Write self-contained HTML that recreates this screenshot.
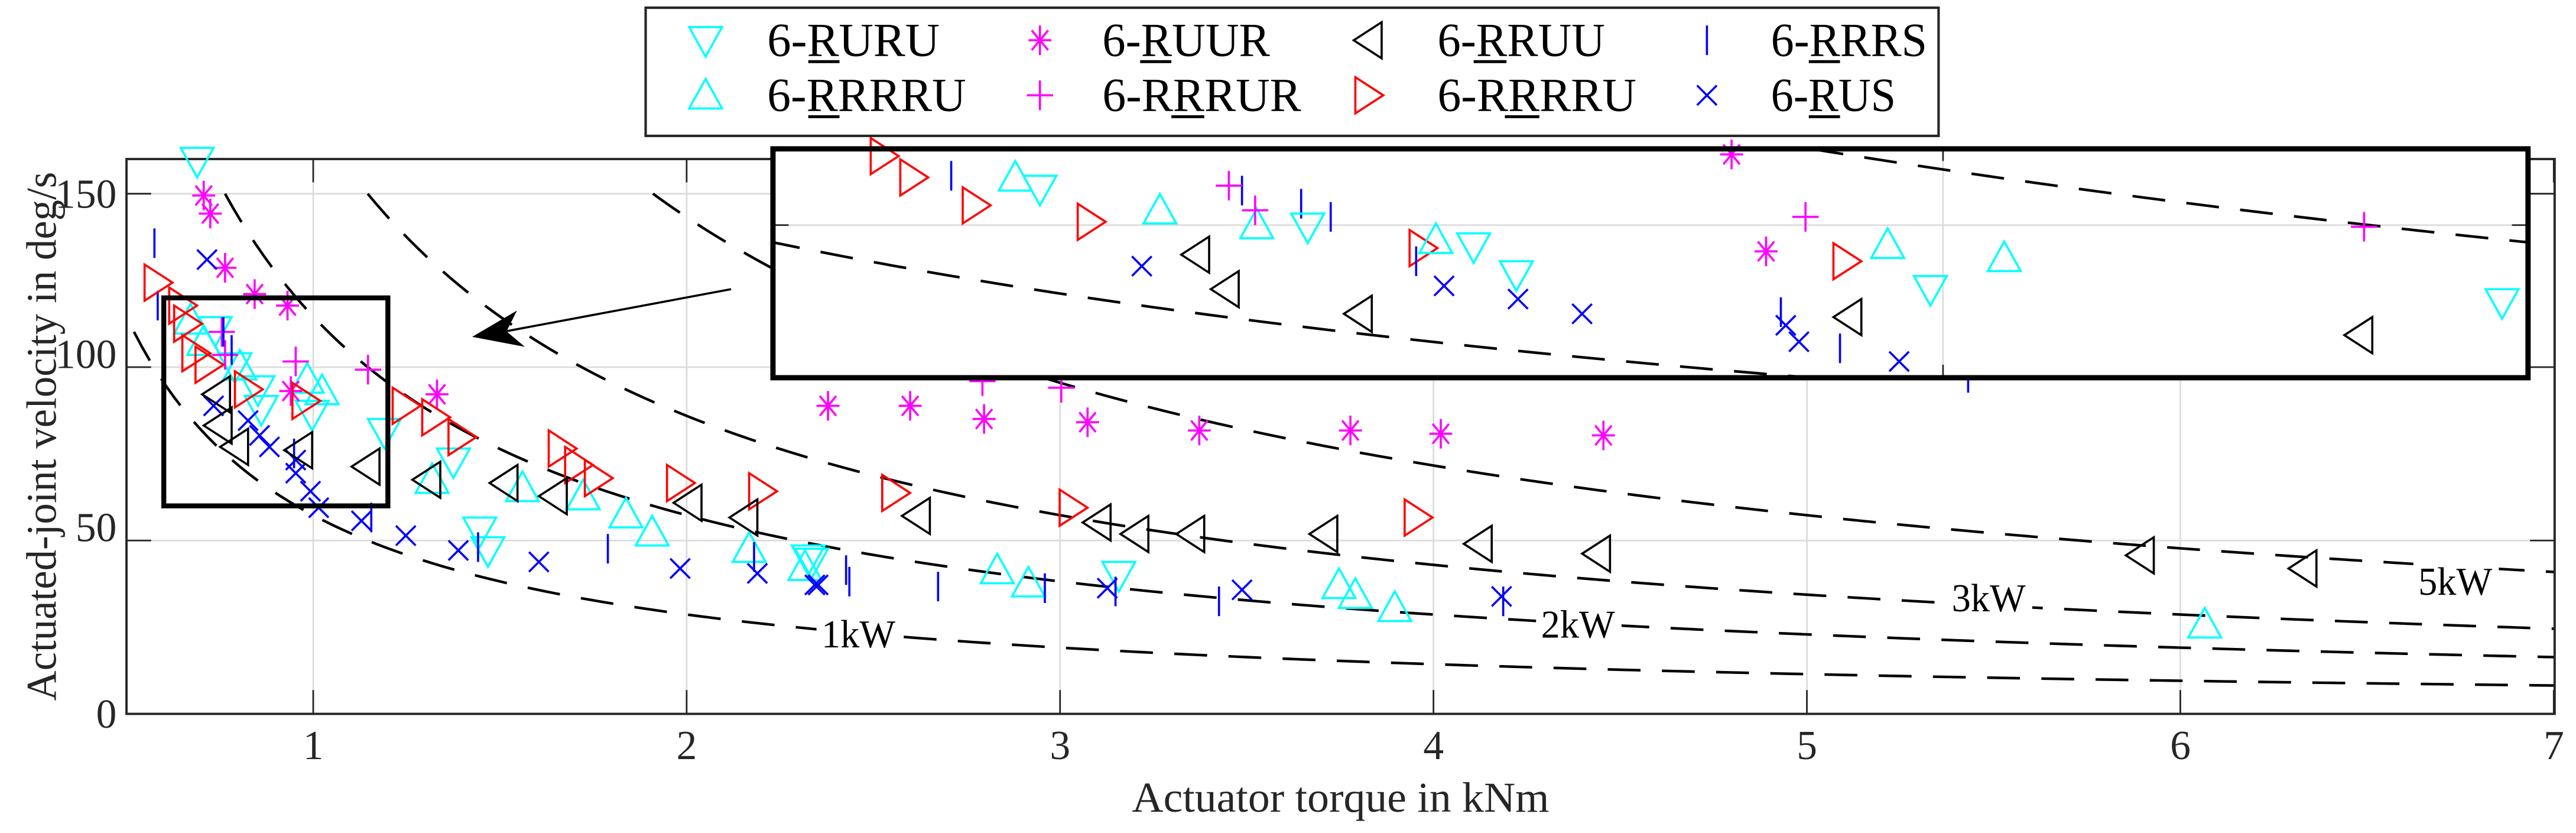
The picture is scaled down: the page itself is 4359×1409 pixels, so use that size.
<!DOCTYPE html>
<html><head><meta charset="utf-8"><style>
html,body{margin:0;padding:0;background:#fff;}
svg{display:block;}
svg text{font-family:"Liberation Serif","DejaVu Serif","Noto Serif CJK SC",serif;}
</style></head><body>
<svg id="s" width="4359" height="1409" viewBox="0 0 1568 507" preserveAspectRatio="none" xmlns="http://www.w3.org/2000/svg">
<defs>
<clipPath id="ca"><rect x="77" y="96.8" width="1478" height="337.7"/></clipPath>
<clipPath id="ci"><rect x="470.5" y="90.6" width="1068.3" height="139.3"/></clipPath>
</defs>
<rect width="1568" height="507" fill="#fff"/>
<g id="grid" stroke="#dcdcdc" stroke-width="1"></g>
<g id="curves" clip-path="url(#ca)" fill="none" stroke="#000" stroke-width="1.6" stroke-dasharray="20 13"></g>
<g id="ticks" stroke="#262626" stroke-width="1"></g>
<rect x="77" y="96.8" width="1478" height="337.7" fill="none" stroke="#262626" stroke-width="1.4"/>
<g id="mk" fill="none" stroke-width="1.3"></g>
<g font-size="24" fill="#000">
<rect x="497" y="373" width="52" height="24" fill="#fff"/><text x="500" y="394" textLength="45" lengthAdjust="spacingAndGlyphs">1kW</text>
<rect x="935" y="367" width="52" height="24" fill="#fff"/><text x="938" y="388" textLength="45" lengthAdjust="spacingAndGlyphs">2kW</text>
<rect x="1185" y="351" width="52" height="24" fill="#fff"/><text x="1188" y="372" textLength="45" lengthAdjust="spacingAndGlyphs">3kW</text>
<rect x="1469" y="342" width="52" height="24" fill="#fff"/><text x="1472" y="362" textLength="45" lengthAdjust="spacingAndGlyphs">5kW</text>
</g>
<rect x="99.7" y="181.3" width="136.4" height="126.6" fill="none" stroke="#000" stroke-width="3"/>
<rect x="470.5" y="90.6" width="1068.3" height="139.3" fill="#fff"/>
<g stroke="#dcdcdc" stroke-width="1"><line x1="1182.7" y1="90.6" x2="1182.7" y2="229.9"/><line x1="470.5" y1="137" x2="1538.8" y2="137"/></g>
<g stroke="#262626" stroke-width="1"><line x1="1182.7" y1="229.9" x2="1182.7" y2="222"/><line x1="1182.7" y1="90.6" x2="1182.7" y2="98"/><line x1="470.5" y1="137" x2="480" y2="137"/><line x1="1538.8" y1="137" x2="1529" y2="137"/></g>
<g id="icurves" clip-path="url(#ci)" fill="none" stroke="#000" stroke-width="1.6" stroke-dasharray="20 13"></g>
<g id="imk" fill="none" stroke-width="1.3"></g>
<rect x="470.5" y="90.6" width="1068.3" height="139.3" fill="none" stroke="#000" stroke-width="3.2"/>
<line x1="445" y1="176" x2="306" y2="202" stroke="#000" stroke-width="1.3"/>
<polygon points="287.4,205 314.7,189 308.3,201.7 319.5,211.1" fill="#000"/>
<g font-size="25" text-anchor="middle" fill="#262626">
<text x="190.7" y="462">1</text><text x="418" y="462">2</text><text x="645.3" y="462">3</text>
<text x="872.6" y="462">4</text><text x="1099.9" y="462">5</text><text x="1327.2" y="462">6</text><text x="1554.5" y="462">7</text>
</g>
<g font-size="25" text-anchor="end" fill="#262626">
<text x="71" y="443">0</text><text x="71" y="329.5">50</text><text x="71" y="224">100</text><text x="71" y="126.5">150</text>
</g>
<text x="689" y="494" font-size="26" fill="#262626" textLength="254" lengthAdjust="spacingAndGlyphs">Actuator torque in kNm</text>
<text transform="translate(34,265.6) rotate(-90)" x="-161" y="0" font-size="26" fill="#262626" textLength="322" lengthAdjust="spacingAndGlyphs">Actuated-joint velocity in deg/s</text>
<rect x="393" y="4.7" width="787" height="78" fill="#fff" stroke="#262626" stroke-width="1.5"/>
<g id="lg" fill="none" stroke-width="1.3"></g>
<g font-size="29" fill="#000">
<text x="467" y="34" textLength="105" lengthAdjust="spacingAndGlyphs">6-RURU</text>
<text x="467" y="67.4" textLength="121" lengthAdjust="spacingAndGlyphs">6-RRRRU</text>
<text x="671" y="34" textLength="102" lengthAdjust="spacingAndGlyphs">6-RUUR</text>
<text x="671" y="67.4" textLength="121" lengthAdjust="spacingAndGlyphs">6-RRRUR</text>
<text x="875" y="34" textLength="102" lengthAdjust="spacingAndGlyphs">6-RRUU</text>
<text x="875" y="67.4" textLength="121" lengthAdjust="spacingAndGlyphs">6-RRRRU</text>
<text x="1078" y="34" textLength="95" lengthAdjust="spacingAndGlyphs">6-RRRS</text>
<text x="1078" y="67.4" textLength="76" lengthAdjust="spacingAndGlyphs">6-RUS</text>
</g>
<g stroke="#000" stroke-width="1.8">
<line x1="492" y1="37.5" x2="511" y2="37.5"/><line x1="492" y1="71" x2="511" y2="71"/>
<line x1="694" y1="37.5" x2="713" y2="37.5"/><line x1="713" y1="71" x2="733" y2="71"/>
<line x1="897" y1="37.5" x2="917" y2="37.5"/><line x1="916" y1="71" x2="937" y2="71"/>
<line x1="1101" y1="37.5" x2="1120" y2="37.5"/><line x1="1101" y1="71" x2="1120" y2="71"/>
</g>
<script>
(function(){
var NS="http://www.w3.org/2000/svg";
function el(p,n,a){var e=document.createElementNS(NS,n);for(var k in a)e.setAttribute(k,a[k]);p.appendChild(e);return e;}
var X=function(t){return 77+(t-0.5)*227.3;}, Y=function(v){return 434.5-2.1106*v;};
var g=document.getElementById('grid'), tk=document.getElementById('ticks');
for(var t=1;t<=6;t++){el(g,'line',{x1:X(t),y1:96.8,x2:X(t),y2:434.5});}
[50,100,150].forEach(function(v){el(g,'line',{x1:77,y1:Y(v),x2:1555,y2:Y(v)});});
for(var t=1;t<=7;t++){el(tk,'line',{x1:X(t),y1:434.5,x2:X(t),y2:420});el(tk,'line',{x1:X(t),y1:96.8,x2:X(t),y2:111});}
[0,50,100,150].forEach(function(v){el(tk,'line',{x1:77,y1:Y(v),x2:92,y2:Y(v)});el(tk,'line',{x1:1555,y1:Y(v),x2:1540,y2:Y(v)});});
var c=document.getElementById('curves');
[1,2,3,5].forEach(function(P){var k=P*57.2958,d='';var t0=Math.max(0.52,k/150);
 for(var i=0;i<=300;i++){var t=t0+(7-t0)*i/300;d+=(i?'L':'M')+X(t).toFixed(2)+','+Y(k/t).toFixed(2);}
 el(c,'path',{d:d});});
var ic=document.getElementById('icurves');
var XI=function(t){return 470.5+(t-0.6)/0.6*1068.3;}, YI=function(v){return 90.6+(120-v)/60*139.3;};
[1,2].forEach(function(P){var k=P*57.2958,d='';
 for(var i=0;i<=200;i++){var t=0.58+0.64*i/200;d+=(i?'L':'M')+XI(t).toFixed(2)+','+YI(k/t).toFixed(2);}
 el(ic,'path',{d:d});});
var C={dn:'#00ffff',up:'#00ffff',as:'#ff00ff',pl:'#ff00ff',lf:'#000',rt:'#ff0000',vl:'#0000ff',xx:'#0000ff'};
function m(p,ty,x,y){var s=C[ty];
 if(ty=='dn')el(p,'polygon',{points:(x-10)+','+(y-8)+' '+(x+10)+','+(y-8)+' '+x+','+(y+10),stroke:s});
 else if(ty=='up')el(p,'polygon',{points:(x-10)+','+(y+8)+' '+(x+10)+','+(y+8)+' '+x+','+(y-10),stroke:s});
 else if(ty=='rt')el(p,'polygon',{points:(x-8)+','+(y-11)+' '+(x-8)+','+(y+11)+' '+(x+9)+','+y,stroke:s});
 else if(ty=='lf')el(p,'polygon',{points:(x+8)+','+(y-11)+' '+(x+8)+','+(y+11)+' '+(x-9)+','+y,stroke:s});
 else if(ty=='pl'){el(p,'line',{x1:x-8,y1:y,x2:x+8,y2:y,stroke:s});el(p,'line',{x1:x,y1:y-9,x2:x,y2:y+9,stroke:s});}
 else if(ty=='vl'){el(p,'line',{x1:x,y1:y-9,x2:x,y2:y+9,stroke:s});}
 else if(ty=='xx'){el(p,'line',{x1:x-6,y1:y-6,x2:x+6,y2:y+6,stroke:s});el(p,'line',{x1:x-6,y1:y+6,x2:x+6,y2:y-6,stroke:s});}
 else if(ty=='as'){el(p,'line',{x1:x-7,y1:y,x2:x+7,y2:y,stroke:s});el(p,'line',{x1:x,y1:y-9,x2:x,y2:y+9,stroke:s});
  el(p,'line',{x1:x-5,y1:y-6,x2:x+5,y2:y+6,stroke:s});el(p,'line',{x1:x-5,y1:y+6,x2:x+5,y2:y-6,stroke:s});}
}
var D={
dn:[[120,98],[131,201],[143,223],[157,237],[159,249],[190,252],[234,263],[276,281],[292,323],[297,335],[494,342],[492,340],[681,350]],
up:[[116,195],[124,208],[146,223],[187,231],[196,238],[263,292],[318,297],[355,302],[381,313],[397,324],[456,334],[490,345],[607,347],[626,355],[815,356],[825,362],[849,370],[1342,380]],
as:[[124,119],[128,130],[137,163],[155,179],[175,186],[177,238],[266,240],[504,247],[554,247],[599,255],[662,257],[730,262],[822,262],[877,264],[976,265]],
pl:[[135,202],[137,216],[180,220],[224,225],[598,232],[646,236]],
vl:[[94,148],[96,186],[136,202],[141,213],[179,276],[226,315],[291,333],[370,334],[459,339],[515,347],[517,354],[571,357],[636,358],[679,360],[742,366],[915,366],[1198,230]],
xx:[[126,158],[130,247],[151,256],[158,265],[164,272],[180,280],[180,288],[189,299],[194,309],[220,317],[247,326],[279,335],[328,342],[414,346],[461,349],[496,356],[498,356],[674,358],[756,359],[914,363]],
rt:[[96,172],[111,186],[114,197],[119,215],[127,222],[151,237],[186,244],[247,247],[265,254],[281,266],[342,273],[352,283],[364,291],[414,294],[464,299],[545,300],[653,309],[863,315]],
lf:[[132,240],[133,259],[143,272],[182,274],[223,284],[260,292],[307,294],[337,302],[419,306],[453,315],[558,314],[668,318],[691,325],[725,325],[806,325],[900,331],[972,337],[1303,338],[1402,346]]
};
var mk=document.getElementById('mk');
for(var ty in D)D[ty].forEach(function(p){m(mk,ty,p[0],p[1]);});
var I={
rt:[[538,95],[556,108],[594,125],[664,135],[866,151],[1124,159]],
vl:[[579,107],[756,116],[792,124],[810,132],[862,159],[1084,190],[1120,212]],
up:[[618,108],[706,128],[765,137],[874,146],[1149,149],[1220,157]],
dn:[[633,115],[796,138],[897,150],[923,167],[1175,176],[1523,184]],
pl:[[748,113],[764,128],[1099,132],[1439,138]],
as:[[1054,94],[1075,153]],
lf:[[728,155],[746,176],[827,191],[1125,193],[1436,204]],
xx:[[695,162],[879,174],[924,182],[963,191],[1087,198],[1095,208],[1156,220]]
};
var imk=document.getElementById('imk');
for(var ty in I)I[ty].forEach(function(p){m(imk,ty,p[0],p[1]);});
var lg=document.getElementById('lg');
m(lg,'dn',429.5,24.5);m(lg,'up',429.5,58);m(lg,'as',633,24.5);m(lg,'pl',633,58);
m(lg,'lf',833,24.5);m(lg,'rt',833,58);m(lg,'vl',1039,24.5);m(lg,'xx',1039,58);
})();
</script>
</svg>
</body></html>
